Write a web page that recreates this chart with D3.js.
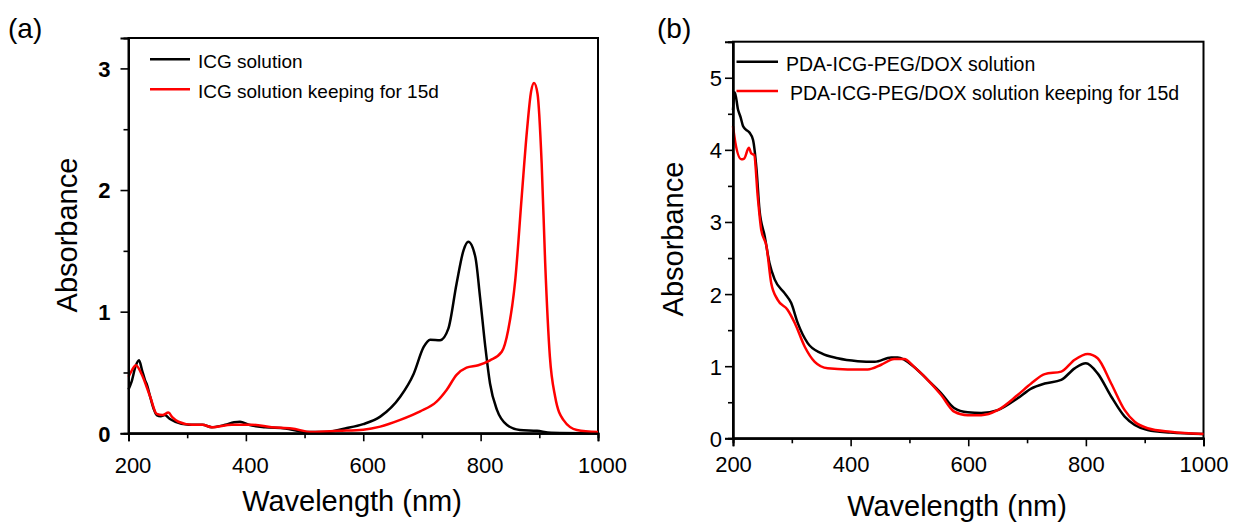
<!DOCTYPE html>
<html>
<head>
<meta charset="utf-8">
<script src="https://cdn.jsdelivr.net/npm/d3@7"></script>
<style>
  body { margin: 0; background: #fff; }
  svg { display: block; font-family: "Liberation Sans", Arial, sans-serif; }
</style>
</head>
<body>
<div id="main"></div>
<script>
// ---- data ----
// panel (a)
let icgWl  = [200, 205, 212, 218, 223, 228, 232, 237, 243, 248, 255, 262, 270, 280, 303, 326, 342, 365, 380, 390, 405, 433, 467, 501, 535, 569, 600, 629, 663, 686, 703, 714, 731, 745, 759, 771, 779, 791, 799, 808, 816, 828, 845, 867, 896, 920, 1000]
let icgAbs = [0.36, 0.42, 0.55, 0.60, 0.52, 0.44, 0.39, 0.30, 0.20, 0.15, 0.14, 0.15, 0.12, 0.095, 0.07, 0.07, 0.05, 0.07, 0.09, 0.095, 0.07, 0.05, 0.04, 0.01, 0.01, 0.04, 0.075, 0.137, 0.30, 0.49, 0.71, 0.77, 0.765, 0.86, 1.23, 1.506, 1.574, 1.45, 1.12, 0.71, 0.41, 0.19, 0.068, 0.027, 0.02, 0.005, 0]

let icg15Wl  = [200, 206, 212.6, 222, 237, 248, 258, 268, 275, 285, 308, 326, 342, 376, 410, 444, 478, 512, 558, 600, 629, 663, 697, 725, 742, 759, 776, 796, 816, 836, 847, 859, 870, 879, 886, 891, 897, 904, 910, 918, 927, 941, 964, 1000]
let icg15Abs = [0.465, 0.52, 0.56, 0.49, 0.30, 0.16, 0.15, 0.17, 0.13, 0.095, 0.07, 0.07, 0.05, 0.07, 0.07, 0.05, 0.04, 0.01, 0.02, 0.03, 0.055, 0.11, 0.18, 0.26, 0.356, 0.48, 0.54, 0.56, 0.60, 0.67, 0.85, 1.26, 1.944, 2.49, 2.81, 2.88, 2.79, 2.22, 1.40, 0.63, 0.30, 0.11, 0.027, 0.01]

// panel (b)
let pdaWl  = [200, 203, 208.5, 213, 217, 222, 228, 234, 240, 245, 254, 262, 271, 288, 299, 310, 327, 350, 378, 412, 441, 469, 480, 508, 531, 554, 576, 599, 622, 650, 684, 707, 730, 758, 781, 800, 820, 843, 866, 883, 905, 944, 1000]
let pdaAbs = [4.55, 4.80, 4.56, 4.45, 4.33, 4.28, 4.24, 4.14, 3.73, 3.17, 2.80, 2.43, 2.20, 2.01, 1.875, 1.60, 1.32, 1.18, 1.11, 1.07, 1.06, 1.12, 1.12, 0.99, 0.81, 0.625, 0.42, 0.36, 0.35, 0.39, 0.555, 0.69, 0.76, 0.81, 0.97, 1.04, 0.90, 0.58, 0.30, 0.185, 0.115, 0.08, 0.06]

let pda15Wl  = [200, 204, 214, 219, 227, 231, 236, 242, 248, 257, 265, 276, 293, 305, 322, 339, 361, 395, 429, 452, 474, 491, 508, 531, 554, 576, 599, 622, 650, 684, 707, 730, 758, 781, 803, 820, 843, 866, 883, 905, 944, 1000]
let pda15Abs = [4.33, 4.10, 3.87, 3.88, 4.03, 3.95, 3.93, 3.36, 2.89, 2.66, 2.15, 1.92, 1.78, 1.60, 1.27, 1.06, 0.97, 0.955, 0.955, 1.02, 1.10, 1.10, 0.99, 0.81, 0.60, 0.37, 0.32, 0.32, 0.39, 0.60, 0.76, 0.89, 0.925, 1.09, 1.17, 1.11, 0.76, 0.39, 0.23, 0.14, 0.09, 0.06]

let xTicks = [200, 400, 600, 800, 1000]
let xMinor = [300, 500, 700, 900]
let yTicksA = [0, 1, 2, 3]
let yMinorA = [0.5, 1.5, 2.5]
let yTicksB = [0, 1, 2, 3, 4, 5]
let yMinorB = [0.5, 1.5, 2.5, 3.5, 4.5]
let legendA = ["ICG solution", "ICG solution keeping for 15d"]
let legendB = ["PDA-ICG-PEG/DOX solution", "PDA-ICG-PEG/DOX solution keeping for 15d"]

let svg = d3.select("#main")
            .append("svg")
            .attr("width", 1234)
            .attr("height", 524)

function zip (xs, ys) {
    return xs.map((x, i) => [x, ys[i]])
}

function drawPanel (p) {
    let xScale = d3.scaleLinear().domain([200, 1000]).range([p.left, p.right])
    let yScale = d3.scaleLinear().domain([0, p.yMax]).range([p.bottom, p.top])

    let g = svg.append("g")

    // frame
    g.append("rect")
     .attr("x", p.left)
     .attr("y", p.top)
     .attr("width", p.right - p.left)
     .attr("height", p.bottom - p.top)
     .attr("fill", "none")
     .attr("stroke", "#000")
     .attr("stroke-width", 2)

    // curves
    let line = d3.line()
                 .x(d => xScale(d[0]))
                 .y(d => yScale(d[1]))
                 .curve(d3.curveMonotoneX)

    p.series.forEach(s => {
        g.append("path")
         .datum(zip(s.wl, s.abs))
         .attr("d", line)
         .attr("fill", "none")
         .attr("stroke", s.color)
         .attr("stroke-width", 2.5)
         .attr("stroke-linejoin", "round")
    })

    // x axis
    let xAxis = g.append("g")
                 .attr("transform", `translate(0, ${p.bottom})`)
                 .call(d3.axisBottom(xScale).tickValues(xTicks).tickSize(8).tickFormat(d3.format("d")))
    g.append("g")
     .attr("transform", `translate(0, ${p.bottom})`)
     .call(d3.axisBottom(xScale).tickValues(xMinor).tickSize(5).tickFormat(""))

    // y axis
    let yAxis = g.append("g")
                 .attr("transform", `translate(${p.left}, 0)`)
                 .call(d3.axisLeft(yScale).tickValues(p.yTicks).tickSize(8).tickPadding(p.yPad).tickFormat(d3.format("d")))
    g.append("g")
     .attr("transform", `translate(${p.left}, 0)`)
     .call(d3.axisLeft(yScale).tickValues(p.yMinor).tickSize(5).tickFormat(""))

    g.selectAll(".domain").attr("stroke-width", 2).attr("stroke", "#000")
    g.selectAll(".tick line").attr("stroke-width", 1.6).attr("stroke", "#000")

    xAxis.selectAll("text")
         .attr("y", p.xLabelY)
         .attr("dy", 0)
         .attr("dx", p.xLabelDx)
         .style("font-size", "22px")
         .style("font-family", "'Liberation Sans', Arial, sans-serif")
         .attr("fill", "#000")
    yAxis.selectAll("text")
         .attr("dy", "0.36em")
         .style("font-size", "22px")
         .style("font-weight", p.yBold ? "bold" : "normal")
         .style("font-family", "'Liberation Sans', Arial, sans-serif")
         .attr("fill", "#000")

    // axis titles
    svg.append("text")
       .attr("x", p.xTitleX)
       .attr("y", p.xTitleY)
       .attr("text-anchor", "middle")
       .style("font-size", "29px")
       .text("Wavelength (nm)")
    svg.append("text")
       .attr("transform", `translate(${p.yTitleX}, ${p.yTitleY}) rotate(-90)`)
       .attr("text-anchor", "middle")
       .style("font-size", "29px")
       .text("Absorbance")

    // panel letter
    svg.append("text")
       .attr("x", p.tagX)
       .attr("y", 38)
       .style("font-size", "28px")
       .text(p.tag)

    // legend
    p.legend.forEach((lab, i) => {
        let ly = p.legY[i]
        g.append("line")
         .attr("x1", p.legX1)
         .attr("x2", p.legX2)
         .attr("y1", ly)
         .attr("y2", ly)
         .attr("stroke", p.series[i].color)
         .attr("stroke-width", 2.5)
        g.append("text")
         .attr("x", p.legTextX[i])
         .attr("y", ly + 9)
         .style("font-size", p.legFont)
         .attr("fill", "#000")
         .text(lab)
    })
}

drawPanel({
    left: 128.5, right: 598, top: 38, bottom: 433.3, yMax: 3.25,
    yTicks: yTicksA, yMinor: yMinorA, yBold: true, yPad: 10,
    xLabelY: 40, xLabelDx: 4,
    xTitleX: 352, xTitleY: 511, yTitleX: 77, yTitleY: 235,
    tag: "(a)", tagX: 8,
    legend: legendA, legX1: 150, legX2: 190, legY: [59.3, 89.3], legTextX: [198, 198], legFont: "19px",
    series: [
        { wl: icgWl, abs: icgAbs, color: "#000" },
        { wl: icg15Wl, abs: icg15Abs, color: "#ff0000" }
    ]
})

drawPanel({
    left: 733, right: 1203.5, top: 41.7, bottom: 438.3, yMax: 5.5,
    yTicks: yTicksB, yMinor: yMinorB, yBold: false, yPad: 3,
    xLabelY: 34, xLabelDx: 0,
    xTitleX: 957, xTitleY: 516, yTitleX: 683, yTitleY: 239,
    tag: "(b)", tagX: 657,
    legend: legendB, legX1: 736.5, legX2: 778, legY: [61.7, 91], legTextX: [786, 790], legFont: "19.5px",
    series: [
        { wl: pdaWl, abs: pdaAbs, color: "#000" },
        { wl: pda15Wl, abs: pda15Abs, color: "#ff0000" }
    ]
})
</script>
</body>
</html>
